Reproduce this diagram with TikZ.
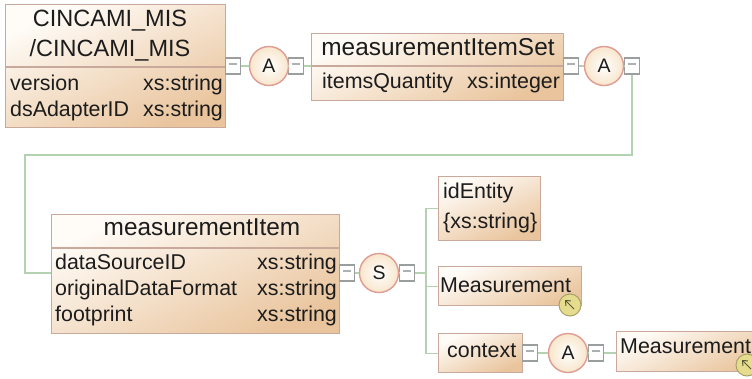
\documentclass[tikz,border=0pt]{standalone}
\usepackage{fontspec}
\usetikzlibrary{arrows.meta}
\setmainfont{Liberation Sans}
\definecolor{boxlight}{HTML}{FFFCF8}
\definecolor{boxmid}{HTML}{F3DAC0}
\definecolor{boxdark}{HTML}{E9C49C}
\definecolor{boxline}{HTML}{C9A99B}
\definecolor{wire}{HTML}{B4D2B2}
\definecolor{ink}{HTML}{1C1C1C}
\definecolor{ringline}{HTML}{DE9C92}
\definecolor{ringfill}{HTML}{F8E6CC}
\definecolor{minusline}{HTML}{9A9E9E}
\definecolor{ballfill}{HTML}{E6DC8E}
\definecolor{ballline}{HTML}{A8A06A}
\tikzset{
  boxnode/.style={draw=boxline,line width=1.4pt,shading=axis,top color=boxlight,middle color=boxmid,bottom color=boxdark,shading angle=25,inner sep=0pt,anchor=north west,rectangle},
  divider/.style={draw=boxline,line width=1.4pt},
  wireline/.style={draw=wire,line width=1.4pt},
  minusnode/.style={draw=minusline,line width=1.1pt,fill=white,minimum width=15.5pt,minimum height=16pt,inner sep=0pt,rectangle,font=\fontsize{13}{13}\selectfont,text=minusline!80},
  ringnode/.style={circle,draw=ringline,line width=1.4pt,inner color=white,outer color=ringfill,minimum size=39pt,inner sep=0pt,text=ink,font=\fontsize{19.5}{20}\selectfont},
  ballnode/.style={circle,draw=ballline,line width=1pt,fill=ballfill,minimum size=22pt,inner sep=0pt},
  ballarrow/.style={-{Straight Barb[length=4pt,width=7pt]},draw=ballline!55!black,line width=1pt},
  title/.style={inner sep=0pt,anchor=base,text=ink,font=\fontsize{23.5}{26}\selectfont},
  row/.style={inner sep=0pt,anchor=base west,text=ink,font=\fontsize{21.4}{24}\selectfont},
}
\newcommand{\minus}{\rule[0.28em]{0.62em}{0.11em}}
\begin{document}
\begin{tikzpicture}[x=1pt,y=1pt]
\useasboundingbox (0,0) rectangle (752,-378);
\fill[white] (0,0) rectangle (752,-378);
\clip (0,0) rectangle (752,-378);
% boxes
\node[boxnode,minimum width=220pt,minimum height=123pt] (b1) at (5,-4) {};
\node[boxnode,minimum width=252pt,minimum height=67pt] (b2) at (311,-33) {};
\node[boxnode,minimum width=288pt,minimum height=119pt] (b3) at (51,-214) {};
\node[boxnode,minimum width=102pt,minimum height=64pt] (b4) at (438,-176) {};
\node[boxnode,minimum width=143pt,minimum height=39pt] (b5) at (438,-266) {};
\node[boxnode,minimum width=84pt,minimum height=39pt] (b6) at (438,-333) {};
\node[boxnode,minimum width=150pt,minimum height=40pt] (b7) at (616,-331) {};
% dividers
\coordinate (d1) at (5,-67);
\coordinate (d2) at (311,-66);
\coordinate (d3) at (51,-248);
\draw[divider] (d1) -- (d1 -| b1.east);
\draw[divider] (d2) -- (d2 -| b2.east);
\draw[divider] (d3) -- (d3 -| b3.east);
% minus boxes
\node[minusnode] (m1) at (233,-66) {\minus};
\node[minusnode] (m2) at (296,-66) {\minus};
\node[minusnode] (m3) at (571,-66) {\minus};
\node[minusnode] (m4) at (632,-66) {\minus};
\node[minusnode] (m5) at (347,-273) {\minus};
\node[minusnode] (m6) at (407,-273) {\minus};
\node[minusnode] (m7) at (530,-353) {\minus};
\node[minusnode] (m8) at (596,-353) {\minus};
% rings
\node[ringnode] (r1) at (269,-66) {A};
\node[ringnode] (r2) at (604,-66) {A};
\node[ringnode] (r3) at (379,-273) {S};
\node[ringnode] (r4) at (568,-353) {A};
% connectors
\coordinate (c1) at (25,-155);
\coordinate (c2) at (25,-273);
\coordinate (j) at (426,-273);
\draw[wireline] (m1) -- (r1);
\draw[wireline] (r1) -- (m2);
\draw[wireline] (m2) -- (b2.west |- m2);
\draw[wireline] (m3) -- (r2);
\draw[wireline] (r2) -- (m4);
\draw[wireline] (m4.south) |- (c1) -- (c2) -- (b3.west |- c2);
\draw[wireline] (m5) -- (r3);
\draw[wireline] (r3) -- (m6);
\draw[wireline] (m6) -- (j);
\draw[wireline] (j) |- (b4.west);
\draw[wireline] (j) |- (b5.west);
\draw[wireline] (j) |- (b6.west);
\draw[wireline] (m7) -- (r4);
\draw[wireline] (r4) -- (m8);
\draw[wireline] (m8) -- (b7.west |- m8);
% texts
\node[title] (t1a) at (110,-26) {CINCAMI\_MIS};
\node[title] (t1b) at (110,-56) {/CINCAMI\_MIS};
\node[row] (t1c) at (10,-90) {version};
\node[row] (t1d) at (143,-90) {xs:string};
\node[row] (t1e) at (10,-116) {dsAdapterID};
\node[row] (t1f) at (143,-116) {xs:string};
\node[title,font=\fontsize{24.4}{26}\selectfont] (t2a) at (438,-55) {measurementItemSet};
\node[row] (t2b) at (322,-88) {itemsQuantity};
\node[row] (t2c) at (467,-88) {xs:integer};
\node[title,font=\fontsize{24.4}{26}\selectfont] (t3a) at (202,-235) {measurementItem};
\node[row] (t3b) at (55,-269) {dataSourceID};
\node[row] (t3c) at (257,-269) {xs:string};
\node[row] (t3d) at (55,-295) {originalDataFormat};
\node[row] (t3e) at (257,-295) {xs:string};
\node[row] (t3f) at (55,-321) {footprint};
\node[row] (t3g) at (257,-321) {xs:string};
\node[row] (t4a) at (443,-198) {idEntity};
\node[row] (t4b) at (443,-228) {\{xs:string\}};
\node[row] (t5) at (440,-292) {Measurement};
\node[row] (t6) at (447,-357) {context};
\node[row] (t7) at (620,-353) {Measurement};
% reference balls
\node[ballnode] (k1) at (570,-305) {};
\node[ballnode] (k2) at (747,-365) {};
\draw[ballarrow] ([shift={(4,-4)}]k1.center) -- ([shift={(-5,5)}]k1.center);
\draw[ballarrow] ([shift={(4,-4)}]k2.center) -- ([shift={(-5,5)}]k2.center);
\end{tikzpicture}
\end{document}
